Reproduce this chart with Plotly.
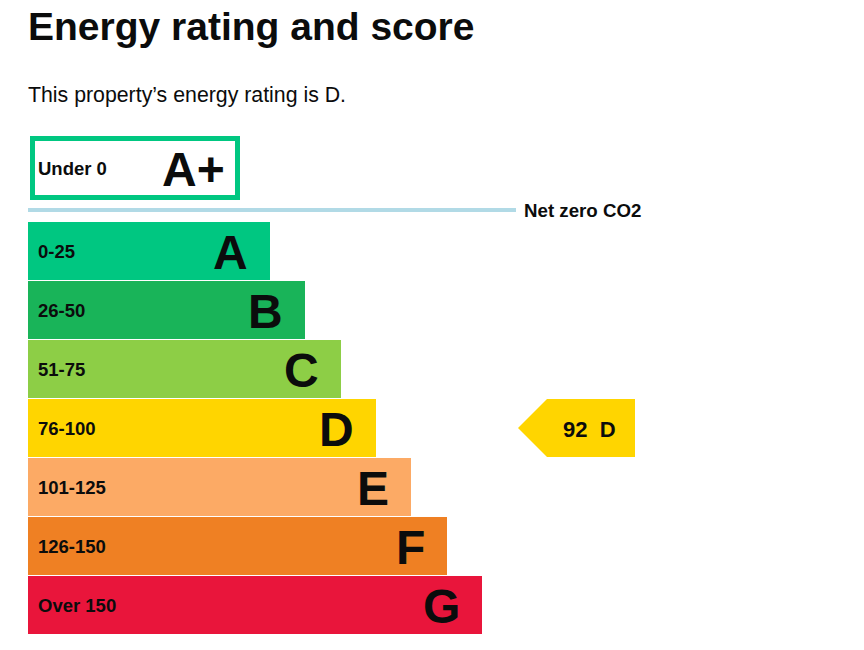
import plotly.graph_objects as go

# EPC bands, top (best) to bottom (worst)
bands = ["A", "B", "C", "D", "E", "F", "G"]
score_ranges = ["0-25", "26-50", "51-75", "76-100", "101-125", "126-150", "Over 150"]
bar_lengths = [242, 277, 313, 348, 383, 419, 454]
band_colours = ["#00c781", "#19b459", "#8dce46", "#ffd500", "#fcaa65", "#ef8023", "#e9153b"]

top_band = "A+"
top_range = "Under 0"
top_length = 212

current_score = 92
current_band = "D"

# layout in pixel units (axes span the whole page; page body has an 8px margin)
W, H = 864, 650
off = 8
left = 28
first_top = 222
pitch = 59
bar_h = 58
font = "Liberation Sans, Arial, sans-serif"
ink = "#0b0c0c"

centers = [first_top + bar_h / 2 + i * pitch for i in range(len(bands))]

fig = go.Figure()

fig.add_trace(go.Bar(
    orientation="h", base=left, x=bar_lengths, y=centers, width=bar_h,
    marker=dict(color=band_colours, line_width=0),
    hoverinfo="skip", showlegend=False,
))

# current rating arrow, placed on its band's row
row = bands.index(current_band)
cy = centers[row]
tip_x, shoulder_x, end_x = 518, 547, 635
fig.add_trace(go.Scatter(
    x=[tip_x, shoulder_x, end_x, end_x, shoulder_x, tip_x],
    y=[cy, cy - bar_h / 2, cy - bar_h / 2, cy + bar_h / 2, cy + bar_h / 2, cy],
    fill="toself", fillcolor=band_colours[row], mode="none",
    hoverinfo="skip", showlegend=False,
))

ann = []
for i, b in enumerate(bands):
    ann.append(dict(x=left + 8, y=centers[i], text=f"<b>{score_ranges[i]}</b>", xanchor="left",
                    font=dict(family=font, size=18.5, color=ink)))
    ann.append(dict(x=left + bar_lengths[i] - 20, y=centers[i] + 1, text=f"<b>{b}</b>", xanchor="right",
                    font=dict(family=font, size=48, color=ink)))

ann.append(dict(x=(tip_x + end_x) / 2 + 13, y=cy + 1,
                text=f"<b>{current_score}&nbsp;&nbsp;{current_band}</b>",
                font=dict(family=font, size=22, color=ink)))

# A+ outlined box
box_top, box_bot = 136, 200
ann.append(dict(x=36, y=(box_top + box_bot) / 2, text=f"<b>{top_range}</b>", xanchor="left",
                font=dict(family=font, size=18.5, color=ink)))
ann.append(dict(x=left + top_length - 13, y=(box_top + box_bot) / 2 + 1, text=f"<b>{top_band}</b>",
                xanchor="right", font=dict(family=font, size=48, color=ink)))

# net zero line label
ann.append(dict(x=522, y=210, text="<b>Net zero CO2</b>", xanchor="left",
                font=dict(family=font, size=18.7, color=ink)))

# headings
ann.append(dict(x=26, y=26, text="<b>Energy rating and score</b>", xanchor="left",
                font=dict(family=font, size=39, color=ink)))
ann.append(dict(x=26, y=95, text="This property’s energy rating is D.", xanchor="left",
                font=dict(family=font, size=21.3, color=ink)))

for a in ann:
    a.update(xref="x", yref="y", showarrow=False, yanchor="middle")

fig.update_layout(
    width=W, height=H,
    margin=dict(l=0, r=0, t=0, b=0),
    paper_bgcolor="white", plot_bgcolor="white",
    xaxis=dict(range=[off, W + off], visible=False, fixedrange=True),
    yaxis=dict(range=[H + off, off], visible=False, fixedrange=True),
    bargap=0,
    annotations=ann,
    shapes=[
        dict(type="rect", xref="x", yref="y", x0=left + 4.5, x1=left + top_length - 2.5,
             y0=box_top + 2.5, y1=box_bot - 2.5, line=dict(color="#00c781", width=5)),
        dict(type="line", xref="x", yref="y", x0=left, x1=516, y0=210, y1=210,
             line=dict(color="#b1dae6", width=4)),
    ],
)

fig.write_html("out.html")
